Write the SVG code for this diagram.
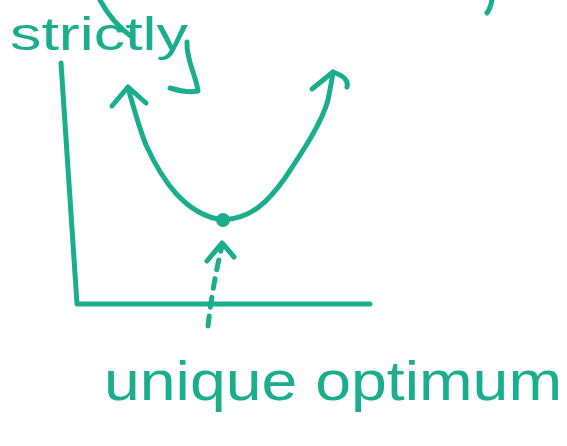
<svg xmlns="http://www.w3.org/2000/svg" width="567" height="446" viewBox="0 0 567 446">
<style>
.s{fill:none;stroke:#1aae8c;stroke-width:5;stroke-linecap:round;stroke-linejoin:round}
.t{fill:#1aae8c;font-family:"Liberation Sans",Arial,sans-serif}
</style>
<rect width="567" height="446" fill="#fff"/>
<g id="marks">
<path class="s" d="M100,0 C108,15 118,27 132,37"/>
<path class="s" d="M187,42 C186,60 196,75 198,91 C190,93 180,91 170,88"/>
<path class="s" d="M492,0 C491,5 490,9 487,13"/>
</g>
<g id="label-strictly">
<text class="t" x="10" y="50" font-size="46" textLength="178" lengthAdjust="spacingAndGlyphs">strictly</text>
</g>
<g id="axes">
<path class="s" d="M61,63 L77,304 L370,304"/>
</g>
<g id="curve">
<path class="s" d="M128,88 C134,108 138,125 146,145 C162,180 185,215 223,220 C252,218 268,202 285,178 C305,148 322,122 328,100 C330,90 332,80 333,72"/>
<path class="s" d="M112,106 L128,87 L146,103"/>
<path class="s" d="M312,89 L333,72 C342,75 349,79 347,87"/>
<circle cx="223" cy="220" r="7" fill="#1aae8c"/>
</g>
<g id="connectors">
<path class="s" d="M208,326 C211,300 215,275 222,246" stroke-dasharray="10 9"/>
<path class="s" d="M207,261 L222,243 L234,257"/>
</g>
<g id="label-unique-optimum">
<text class="t" x="104" y="400" font-size="56" textLength="458" lengthAdjust="spacingAndGlyphs">unique optimum</text>
</g>
</svg>
